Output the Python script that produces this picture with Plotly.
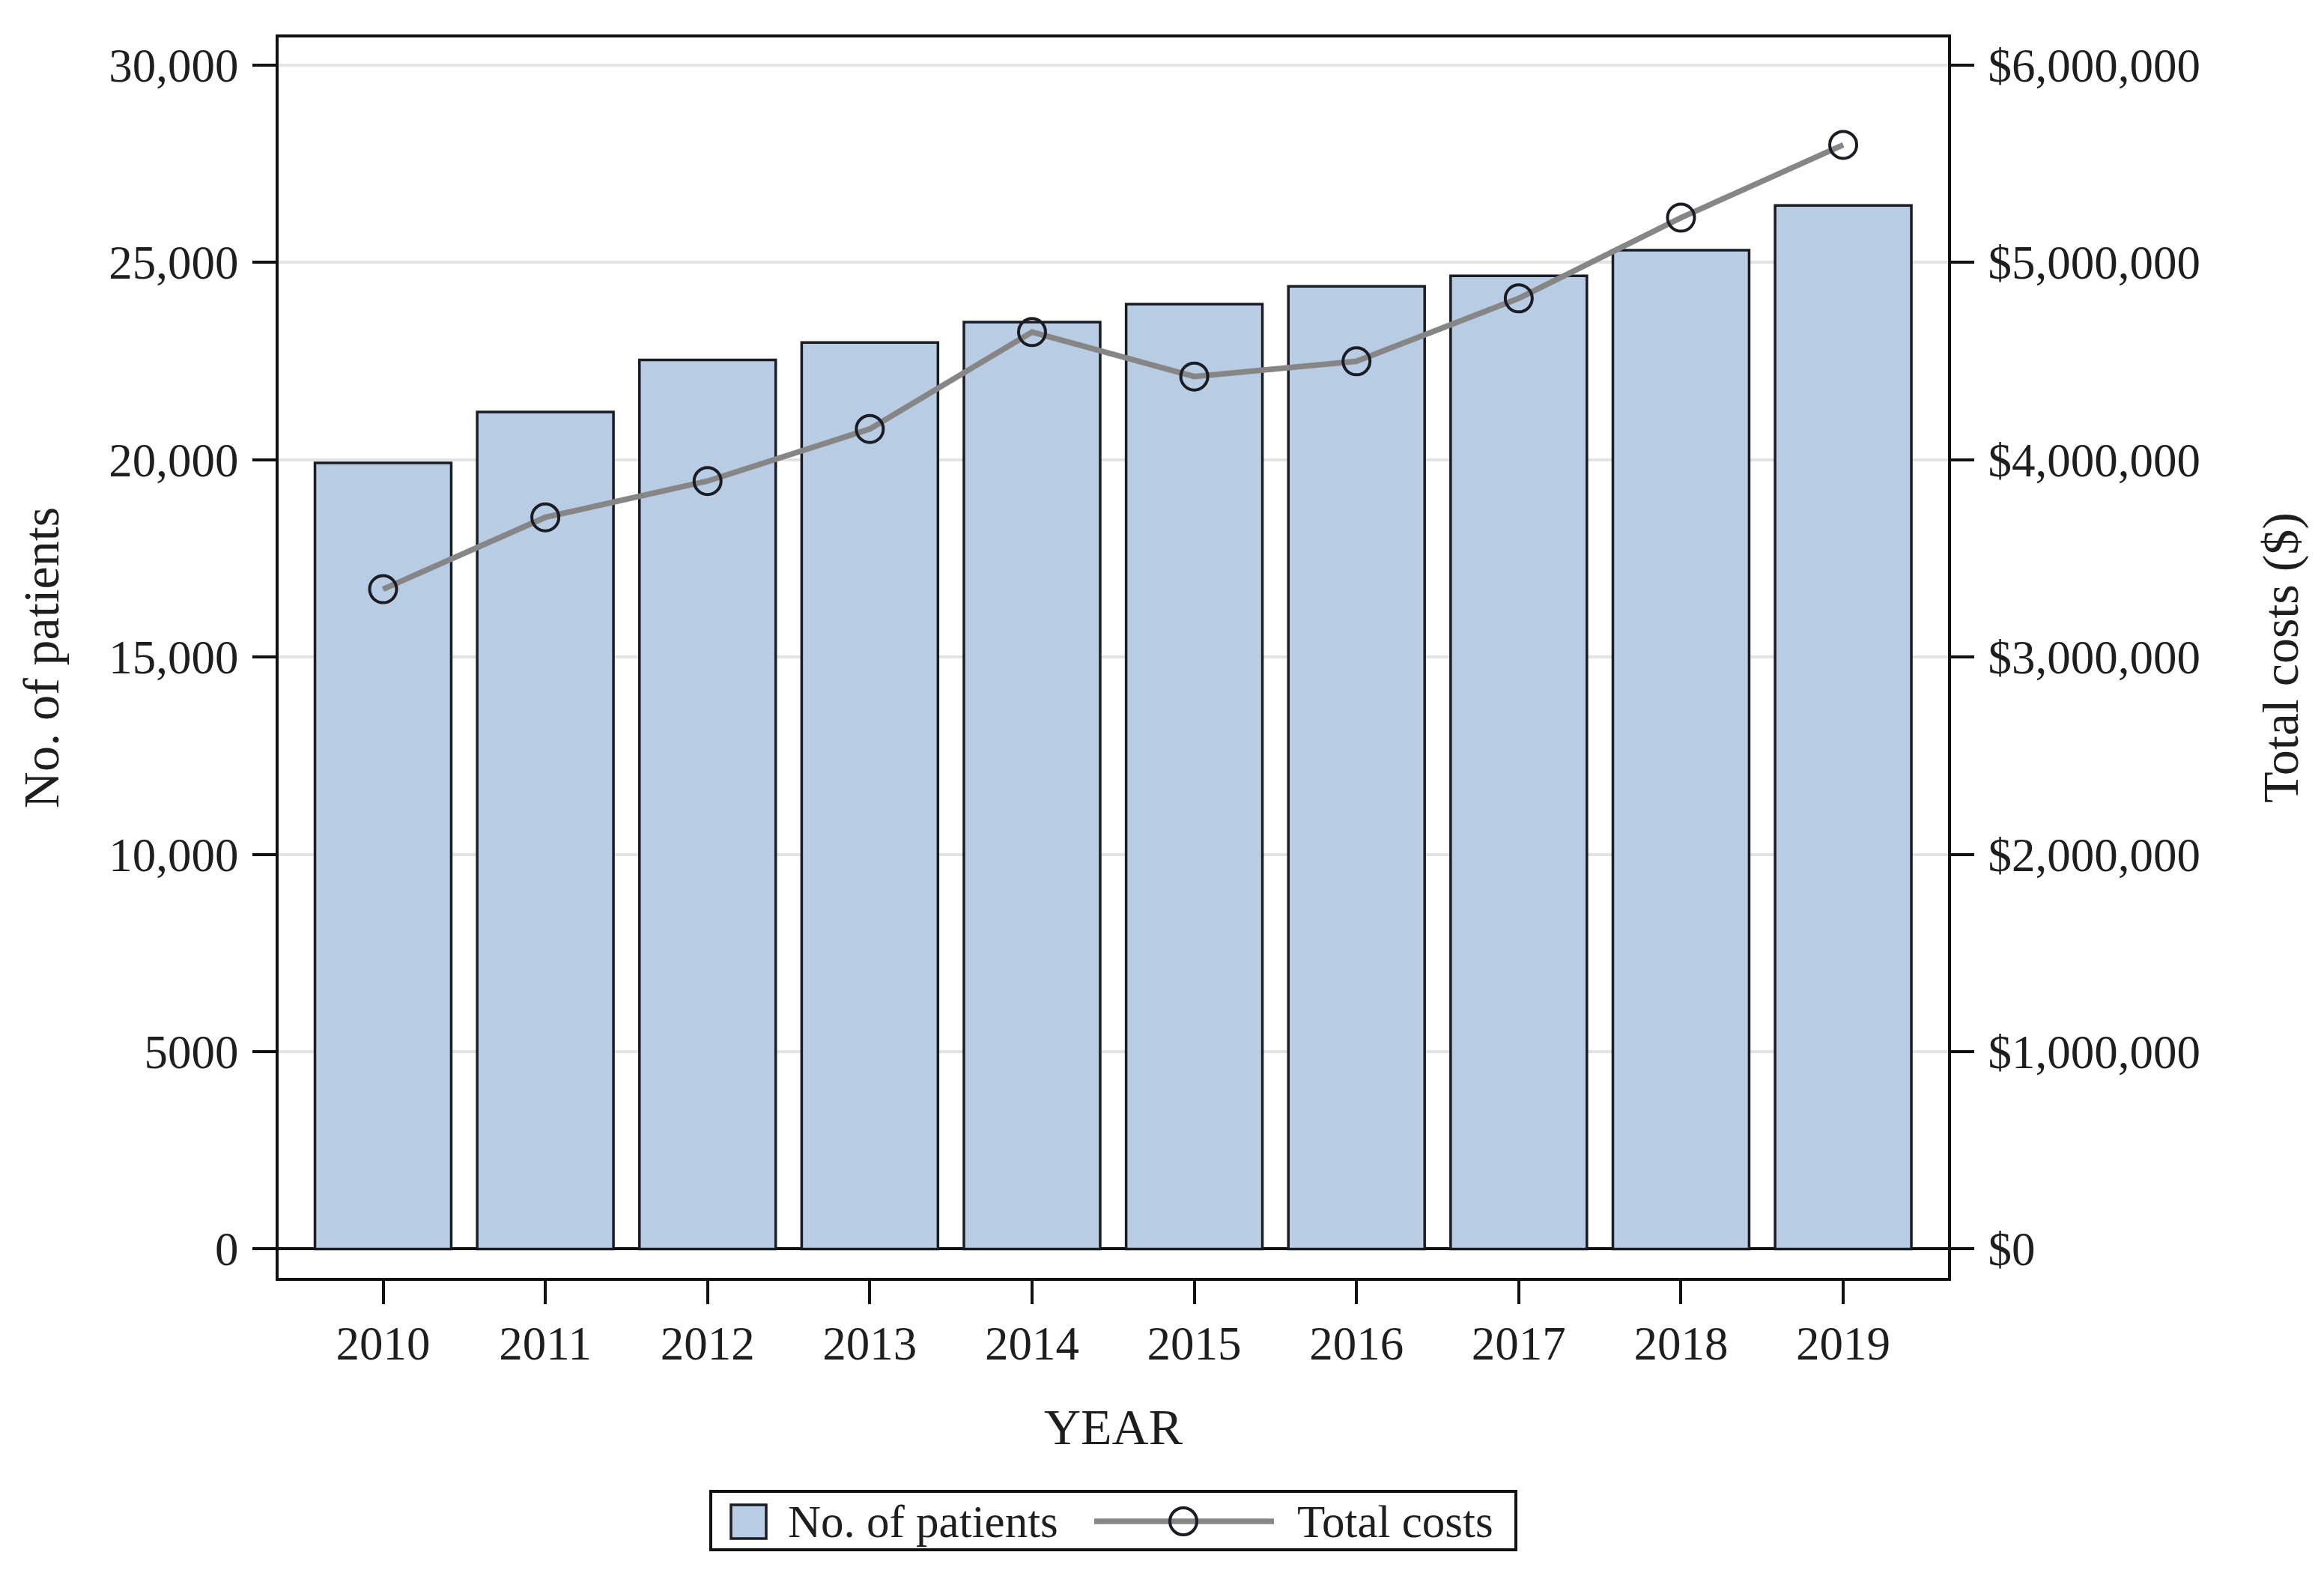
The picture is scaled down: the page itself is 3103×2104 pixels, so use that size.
import plotly.graph_objects as go

# ---- data ----
years = [2010, 2011, 2012, 2013, 2014, 2015, 2016, 2017, 2018, 2019]
patients = [19920, 21210, 22530, 22970, 23490, 23945, 24395, 24660, 25310, 26445]
total_costs = [3344000, 3708000, 3892000, 4156000, 4647000, 4422000, 4499000, 4818000, 5227000, 5596000]

y_tickvals = [0, 5000, 10000, 15000, 20000, 25000, 30000]
y_ticktext = ["0", "5000", "10,000", "15,000", "20,000", "25,000", "30,000"]
y2_tickvals = [0, 1000000, 2000000, 3000000, 4000000, 5000000, 6000000]
y2_ticktext = ["$0", "$1,000,000", "$2,000,000", "$3,000,000", "$4,000,000", "$5,000,000", "$6,000,000"]

bar_name = "No. of patients"
line_name = "Total costs"

# ---- styles ----
FONT = "Liberation Serif, Times New Roman, serif"
TXT = "#1e1e1e"
BAR_FILL = "#B8CCE4"
EDGE = "#1b1d24"
LINE_GRAY = "#868686"

OFF = 8  # default page body margin
W, H = 3103 - OFF, 2104 - OFF
ML, MR, MT, MB = 372 - OFF, 502, 50 - OFF, 398

fig = go.Figure()
fig.add_trace(go.Bar(
    x=years, y=patients, name=bar_name, width=0.84,
    marker=dict(color=BAR_FILL, line=dict(color=EDGE, width=3.5)),
    showlegend=False, yaxis="y",
))
fig.add_trace(go.Scatter(
    x=years, y=total_costs, name=line_name, mode="lines+markers",
    line=dict(color=LINE_GRAY, width=7.5),
    marker=dict(symbol="circle-open", size=36, color=EDGE, line=dict(width=4)),
    showlegend=False, yaxis="y2",
))

axis_common = dict(
    ticks="outside", ticklen=31, tickwidth=3.5, tickcolor="#111",
    showline=True, linewidth=4, linecolor="#111",
    tickfont=dict(family=FONT, size=63, color=TXT),
)

fig.update_layout(
    width=W, height=H, autosize=False,
    margin=dict(l=ML, r=MR, t=MT, b=MB),
    paper_bgcolor="white", plot_bgcolor="white",
    font=dict(family=FONT, color=TXT),
    xaxis=dict(
        **axis_common,
        range=[2009.356, 2019.646], tickvals=years, ticktext=[str(y) for y in years],
        mirror=True, showgrid=False, zeroline=False, ticklabelstandoff=-2,
        title=dict(text="YEAR", font=dict(family=FONT, size=68, color=TXT), standoff=54),
    ),
    yaxis=dict(
        **axis_common,
        range=[-733, 30702], tickvals=y_tickvals, ticktext=y_ticktext,
        showgrid=True, gridcolor="#e3e3e3", gridwidth=3.5,
        zeroline=True, zerolinecolor="#111", zerolinewidth=4,
        ticklabelstandoff=6,
        title=dict(text="No. of patients", font=dict(family=FONT, size=68, color=TXT), standoff=45),
    ),
    yaxis2=dict(
        **axis_common,
        overlaying="y", side="right",
        range=[-146600, 6140400], tickvals=y2_tickvals, ticktext=y2_ticktext,
        showgrid=False, zeroline=False, ticklabelstandoff=6,
        title=dict(text="Total costs ($)", font=dict(family=FONT, size=68, color=TXT), standoff=84),
    ),
)

# ---- manual legend (box, patch, line symbol, labels) in paper coordinates ----
pw = W - ML - MR
ph = H - MT - MB
def px(xpage):
    return (xpage - OFF - ML) / pw
def py(ypage):
    return (H - MB - (ypage - OFF)) / ph

ly = py(2031)
fig.add_shape(type="rect", xref="paper", yref="paper",
              x0=px(949), x1=px(2024), y0=py(2069), y1=py(1991),
              line=dict(color="#111", width=4), fillcolor="white", layer="above")
fig.add_shape(type="rect", xref="paper", yref="paper",
              x0=px(976), x1=px(1023), y0=py(2054), y1=py(2009),
              line=dict(color=EDGE, width=3.5), fillcolor=BAR_FILL, layer="above")
fig.add_shape(type="line", xref="paper", yref="paper",
              x0=px(1461), x1=px(1701), y0=ly, y1=ly,
              line=dict(color=LINE_GRAY, width=7.5), layer="above")
fig.add_shape(type="circle", xref="paper", yref="paper",
              xsizemode="pixel", ysizemode="pixel",
              xanchor=px(1580), yanchor=ly, x0=-18, x1=18, y0=-18, y1=18,
              line=dict(color=EDGE, width=4), layer="above")
fig.add_annotation(text=bar_name, xref="paper", yref="paper", x=px(1050), y=ly,
                   xanchor="left", yanchor="middle", showarrow=False,
                   font=dict(family=FONT, size=61, color=TXT))
fig.add_annotation(text=line_name, xref="paper", yref="paper", x=px(1730), y=ly,
                   xanchor="left", yanchor="middle", showarrow=False,
                   font=dict(family=FONT, size=61, color=TXT))

fig.write_html("out.html")
